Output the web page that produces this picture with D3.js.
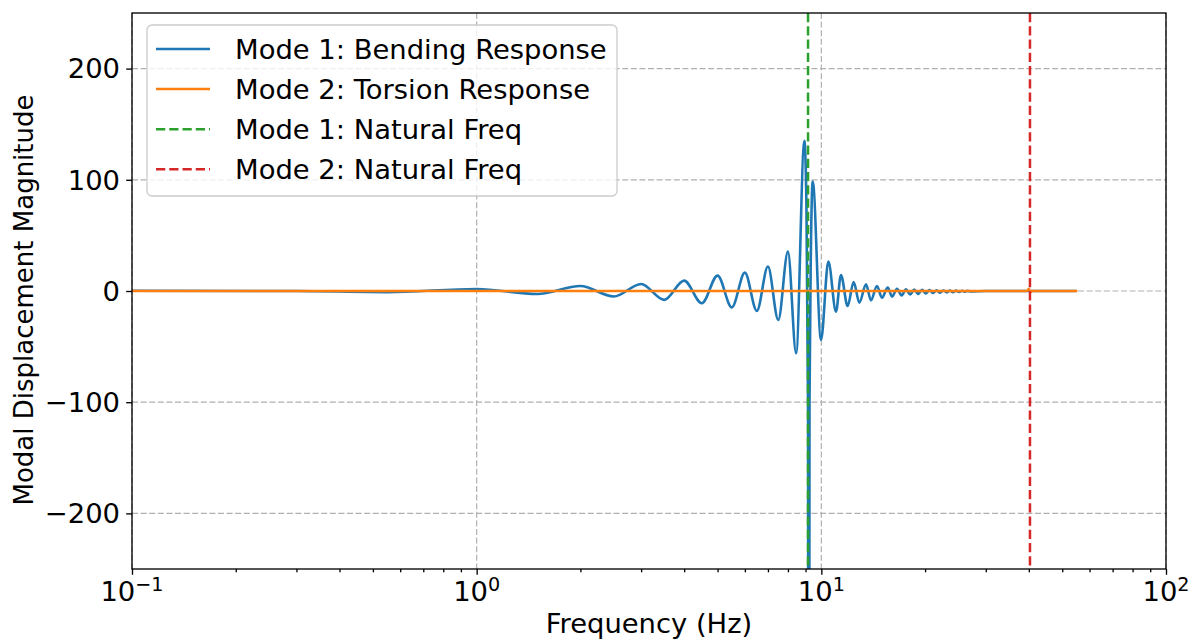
<!DOCTYPE html>
<html><head><meta charset="utf-8">
<script src="https://cdn.jsdelivr.net/npm/d3@7"></script>
<style>
body{margin:0;background:#fff}
svg{display:block}
text{font-family:"DejaVu Sans",sans-serif;fill:#000}
</style>
</head><body>
<svg id="chart" width="1199" height="640"></svg>
<script>
// ---- data ----
const bendFreq = [0.1, 0.3, 0.55, 1.0, 1.5, 2.0, 2.5, 3.0, 3.5, 4.0, 4.5, 5.0, 5.5, 6.0, 6.5, 7.0, 7.5, 8.0, 8.45, 8.93, 9.05, 9.15, 9.19, 9.24, 9.33, 9.44, 9.98, 10.48, 11.03, 11.4, 11.92, 12.41, 12.89, 13.48, 13.93, 14.5, 14.99, 15.58, 16.04, 16.58, 17.1, 17.6, 18.1, 18.6, 19.1, 19.6, 20.1, 20.6, 21.1, 21.6, 22.1, 22.6, 23.1, 23.6, 24.1, 24.6, 25.1, 25.6, 26.1, 26.6, 27.1, 30, 55];
const bendValue = [0.2, 0, -1.0, 1.8, -2.7, 4.5, -5.0, 6.3, -8.0, 9.3, -11.0, 13.8, -14.7, 16.5, -18.0, 22.0, -26.0, 35.4, -56.0, 135.0, 80, -100, -1000, -100, 40, 98.5, -44.0, 26.5, -18.6, 14.4, -13.5, 8.1, -10.5, 6.0, -8.4, 4.5, -6.0, 3.0, -5.0, 2.0, -4.0, 1.5, -3.2, 1.2, -2.6, 1.0, -2.2, 0.8, -1.8, 0.6, -1.5, 0.5, -1.2, 0.4, -1.0, 0.3, -0.8, 0.2, -0.6, 0.1, -0.4, 0, 0];
const torsionFreq = [0.1, 39.5, 40.0, 40.4, 40.9, 55.3];
const torsionValue = [0, 0, 2, -1, 0, 0];
const naturalFreqs = [9.15, 40.3];
const seriesNames = ["Mode 1: Bending Response", "Mode 2: Torsion Response", "Mode 1: Natural Freq", "Mode 2: Natural Freq"];
const seriesColors = ["#1f77b4", "#ff7f0e", "#2ca02c", "#d62728"];
const xTicks = [0.1, 1, 10, 100];
const xTickExponents = ["\u22121", "0", "1", "2"];
const yTicks = [-200, -100, 0, 100, 200];
const xLabel = "Frequency (Hz)";
const yLabel = "Modal Displacement Magnitude";

// ---- layout ----
const L = 132, R = 1166, T = 13, B = 569;
const FS = 27.4;
const svg = d3.select("#chart");
const x = d3.scaleLog().domain([0.1, 100]).range([L, R]);
const y = d3.scaleLinear().domain([-250, 250]).range([B, T]);

svg.append("defs").append("clipPath").attr("id", "plotclip")
  .append("rect").attr("x", L).attr("y", T).attr("width", R - L).attr("height", B - T);

// grid
const grid = svg.append("g").attr("stroke", "#b0b0b0").attr("stroke-width", 1.2)
  .attr("stroke-dasharray", "6,2.6").attr("fill", "none");
grid.selectAll("line.gx").data(xTicks).join("line")
  .attr("x1", d => x(d)).attr("x2", d => x(d)).attr("y1", T).attr("y2", B);
grid.selectAll("line.gy").data(yTicks).join("line")
  .attr("x1", L).attr("x2", R).attr("y1", d => y(d)).attr("y2", d => y(d));

// series
const plot = svg.append("g").attr("clip-path", "url(#plotclip)");
const line = d3.line().x(d => x(d[0])).y(d => y(d[1])).curve(d3.curveMonotoneX);
const bend = bendFreq.map((f, i) => [f, bendValue[i]]);
const tors = torsionFreq.map((f, i) => [f, torsionValue[i]]);
plot.append("path").attr("d", line(bend)).attr("fill", "none")
  .attr("stroke", seriesColors[0]).attr("stroke-width", 2.6).attr("stroke-linejoin", "round");
plot.append("path").attr("d", line(tors)).attr("fill", "none")
  .attr("stroke", seriesColors[1]).attr("stroke-width", 2.6).attr("stroke-linejoin", "round");
naturalFreqs.forEach((f, i) => {
  plot.append("line").attr("x1", x(f)).attr("x2", x(f)).attr("y1", T).attr("y2", B)
    .attr("stroke", seriesColors[2 + i]).attr("stroke-width", 2.5)
    .attr("stroke-dasharray", "9.25,4");
});

// axes
const xAxis = d3.axisBottom(x).tickValues(xTicks).tickSize(5.8).tickFormat("");
const minor = [];
for (let e = -1; e < 2; e++) for (let m = 2; m <= 9; m++) minor.push(m * Math.pow(10, e));
svg.append("g").attr("transform", `translate(0,${B})`).call(xAxis);
svg.append("g").attr("transform", `translate(0,${B})`)
  .call(d3.axisBottom(x).tickValues(minor).tickSize(3.3).tickFormat(""));
svg.append("g").attr("transform", `translate(${L},0)`)
  .call(d3.axisLeft(y).tickValues(yTicks).tickSize(5.8).tickFormat(""));
svg.selectAll(".tick line").attr("stroke", "#000").attr("stroke-width", 1.33);
svg.selectAll(".domain").remove();

// frame
svg.append("rect").attr("x", L).attr("y", T).attr("width", R - L).attr("height", B - T)
  .attr("fill", "none").attr("stroke", "#000").attr("stroke-width", 1.33);

// tick labels
xTicks.forEach((t, i) => {
  const tx = svg.append("text").attr("x", x(t)).attr("y", 601)
    .attr("text-anchor", "middle").attr("font-size", FS);
  tx.append("tspan").text("10");
  tx.append("tspan").attr("dy", -10).attr("font-size", FS * 0.7).text(xTickExponents[i]);
});
yTicks.forEach(t => {
  svg.append("text").attr("x", 120).attr("y", y(t) + 9.8).attr("text-anchor", "end")
    .attr("font-size", FS).text(t < 0 ? "\u2212" + Math.abs(t) : String(t));
});

// axis labels
svg.append("text").attr("x", (L + R) / 2).attr("y", 633).attr("text-anchor", "middle")
  .attr("font-size", FS).text(xLabel);
svg.append("text").attr("transform", `translate(33,300) rotate(-90)`)
  .attr("text-anchor", "middle").attr("font-size", 26).text(yLabel);

// legend
const lg = svg.append("g");
lg.append("rect").attr("x", 147).attr("y", 25).attr("width", 470).attr("height", 171)
  .attr("rx", 5).attr("fill", "#fff").attr("fill-opacity", 0.8)
  .attr("stroke", "#cccccc").attr("stroke-width", 1.33);
seriesNames.forEach((name, i) => {
  const cy = 49 + i * 40.1;
  lg.append("line").attr("x1", 156).attr("x2", 210).attr("y1", cy).attr("y2", cy)
    .attr("stroke", seriesColors[i]).attr("stroke-width", 2.5)
    .attr("stroke-dasharray", i >= 2 ? "9.25,4" : null);
  lg.append("text").attr("x", 235).attr("y", cy + 9.8).attr("font-size", FS).text(name);
});
</script>
</body></html>
